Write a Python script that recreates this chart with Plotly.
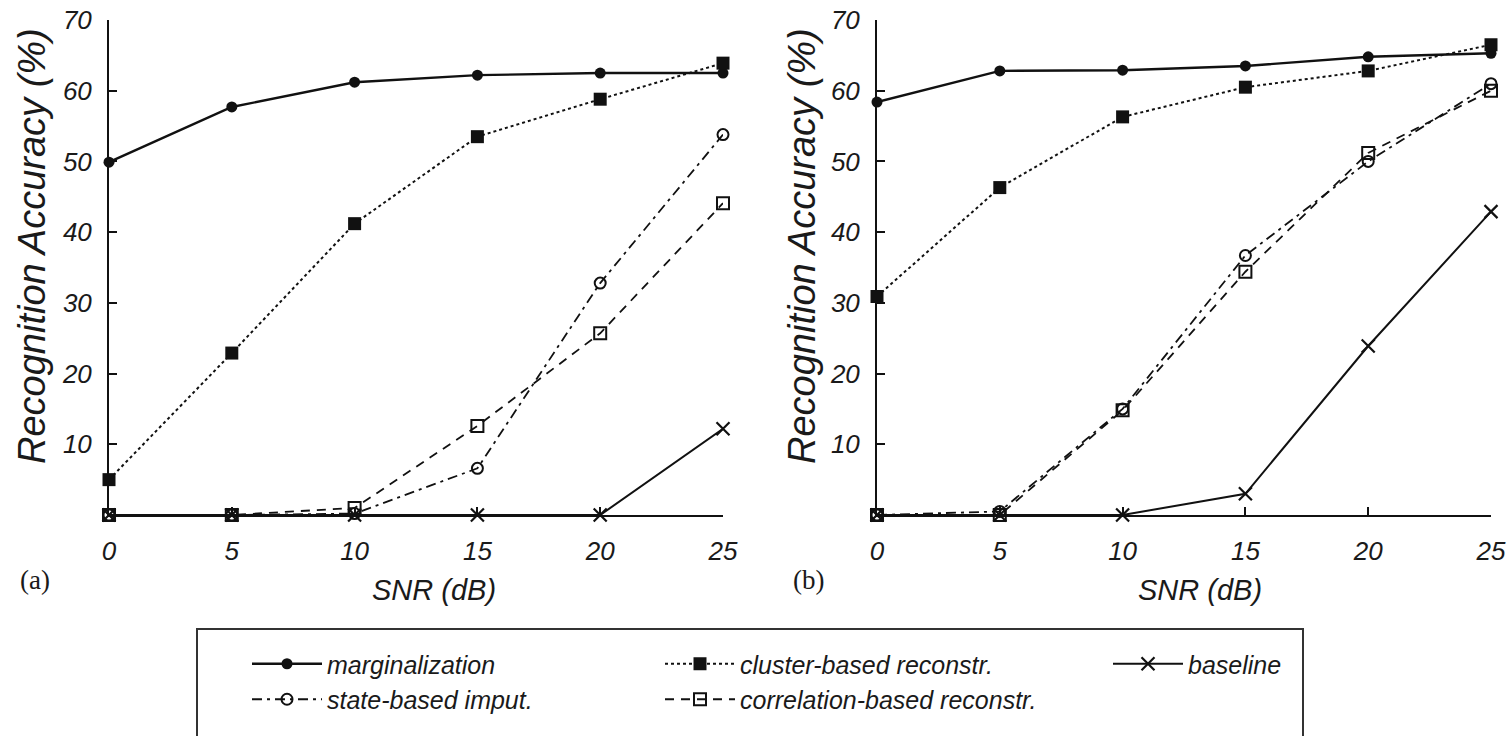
import plotly.graph_objects as go

# ---------------- data ----------------
snr = [0, 5, 10, 15, 20, 25]
x_tick_vals = [0, 5, 10, 15, 20, 25]
y_tick_vals = [10, 20, 30, 40, 50, 60, 70]

names = ["marginalization", "state-based imput.", "cluster-based reconstr.",
         "correlation-based reconstr.", "baseline"]

# panel (a)
a_marginalization = [49.9, 57.7, 61.2, 62.2, 62.5, 62.5]
a_cluster = [5.0, 22.9, 41.2, 53.5, 58.8, 63.9]
a_state = [0.0, 0.0, 0.2, 6.6, 32.8, 53.8]
a_correlation = [0.0, 0.0, 1.0, 12.6, 25.7, 44.1]
a_baseline = [0.0, 0.0, 0.0, 0.0, 0.0, 12.2]

# panel (b)
b_marginalization = [58.4, 62.8, 62.9, 63.5, 64.8, 65.3]
b_cluster = [30.9, 46.3, 56.3, 60.5, 62.8, 66.5]
b_state = [0.0, 0.5, 15.0, 36.7, 50.0, 61.0]
b_correlation = [0.0, 0.0, 14.8, 34.4, 51.2, 60.0]
b_baseline = [0.0, 0.0, 0.0, 3.0, 23.9, 42.9]

panel_a = [a_marginalization, a_state, a_cluster, a_correlation, a_baseline]
panel_b = [b_marginalization, b_state, b_cluster, b_correlation, b_baseline]

# ---------------- styles ----------------
styles = [
    dict(dash="solid", symbol="circle", size=11, lw=2.4, mlw=0, legend="legend"),
    dict(dash="10px,5px,3px,5px", symbol="circle-open", size=11, lw=1.8, mlw=2, legend="legend"),
    dict(dash="3px,3px", symbol="square", size=13, lw=2, mlw=0, legend="legend2"),
    dict(dash="9px,7px", symbol="square-open", size=12, lw=1.8, mlw=2, legend="legend2"),
    dict(dash="solid", symbol="x-thin-open", size=13, lw=2, mlw=2.2, legend="legend3"),
]
INK = "#111111"
FONT = "Liberation Sans, Arial, sans-serif"

fig = go.Figure()
for panel, (xa, ya) in ((panel_a, ("x", "y")), (panel_b, ("x2", "y2"))):
    first = xa == "x"
    for name, vals, st in zip(names, panel, styles):
        fig.add_trace(go.Scatter(
            x=snr, y=vals, name=name, mode="lines+markers",
            xaxis=xa, yaxis=ya, cliponaxis=False,
            legend=st["legend"], showlegend=first,
            line=dict(color=INK, width=st["lw"], dash=st["dash"]),
            marker=dict(symbol=st["symbol"], size=st["size"], color=INK,
                        line=dict(color=INK, width=st["mlw"])),
        ))

# page body margin is removed by the post script, so the figure fills the window
W, H = 1512, 736
def px_x(p):
    return p / W
def px_y(p):
    return (H - p) / H

axis_common = dict(showline=True, linecolor=INK, linewidth=2, ticks="inside",
                   ticklen=8, tickwidth=1.6, tickcolor=INK, showgrid=False,
                   zeroline=False, mirror=False, automargin=False,
                   ticklabeloverflow="allow",
                   tickfont=dict(family=FONT, size=26, color="#1a1a1a", style="italic"))

fig.update_layout(
    width=W, height=H,
    margin=dict(l=0, r=0, t=0, b=0, autoexpand=False),
    plot_bgcolor="white", paper_bgcolor="white",
    xaxis=dict(domain=[px_x(109), px_x(723)], range=[0, 25], tickvals=x_tick_vals,
               anchor="y", ticklabelstandoff=12, **axis_common),
    yaxis=dict(domain=[px_y(515), px_y(20)], range=[0, 70], tickvals=y_tick_vals,
               anchor="x", ticklabelstandoff=10, **axis_common),
    xaxis2=dict(domain=[px_x(877), px_x(1491)], range=[0, 25], tickvals=x_tick_vals,
                anchor="y2", ticklabelstandoff=12, **axis_common),
    yaxis2=dict(domain=[px_y(515), px_y(20)], range=[0, 70], tickvals=y_tick_vals,
                anchor="x2", ticklabelstandoff=10, **axis_common),
)

legend_common = dict(orientation="v", xanchor="left", yanchor="top",
                     bgcolor="rgba(0,0,0,0)", borderwidth=0, itemwidth=70,
                     font=dict(family=FONT, size=25, color="#1a1a1a", style="italic"),
                     tracegroupgap=0)
fig.update_layout(
    legend=dict(x=px_x(247), y=px_y(641), **legend_common),
    legend2=dict(x=px_x(660), y=px_y(641), **legend_common),
    legend3=dict(x=px_x(1108), y=px_y(641), **legend_common),
)

# legend frame
fig.add_shape(type="rect", xref="paper", yref="paper",
              x0=px_x(197), x1=px_x(1303), y0=-0.05, y1=px_y(629),
              line=dict(color="#333333", width=2), fillcolor="rgba(0,0,0,0)", layer="below")

title_font = dict(family=FONT, color="#1a1a1a", style="italic")
annotations = [
    dict(text="Recognition Accuracy (%)", x=px_x(32), y=px_y(246), textangle=-90,
         font=dict(size=38, **title_font)),
    dict(text="Recognition Accuracy (%)", x=px_x(802), y=px_y(246), textangle=-90,
         font=dict(size=38, **title_font)),
    dict(text="SNR (dB)", x=px_x(434), y=px_y(590), font=dict(size=29, **title_font)),
    dict(text="SNR (dB)", x=px_x(1200), y=px_y(590), font=dict(size=29, **title_font)),
    dict(text="(a)", x=px_x(35), y=px_y(580),
         font=dict(family="Liberation Serif, Times New Roman, serif", size=27, color="#1a1a1a")),
    dict(text="(b)", x=px_x(808), y=px_y(580),
         font=dict(family="Liberation Serif, Times New Roman, serif", size=27, color="#1a1a1a")),
]
for a in annotations:
    a.update(xref="paper", yref="paper", showarrow=False, xanchor="center", yanchor="middle")
    fig.add_annotation(**a)

fig.write_html("out.html", config={"displayModeBar": False},
               post_script="document.body.style.margin='0px';document.body.style.overflow='hidden';")
